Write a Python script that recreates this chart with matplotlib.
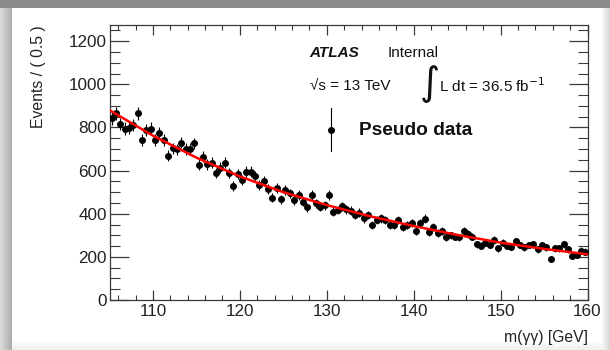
"""
ATLAS pseudo-data m(yy) spectrum with background fit, ROOT-like style.
Saves out.png (610x350).
"""
import numpy as np
import matplotlib
matplotlib.use("Agg")
import matplotlib.pyplot as plt

plt.rcParams["font.family"] = ["Liberation Sans", "DejaVu Sans"]

# ── data ────────────────────────────────────────────────────────────────
BIN_LO = 105.0
BIN_WIDTH = 0.5
EVENTS = [
    842, 865, 815, 795, 798, 810, 865, 742, 788, 795,
    742, 775, 742, 668, 703, 698, 730, 700, 700, 726,
    627, 664, 630, 636, 590, 613, 636, 590, 528, 584,
    556, 595, 595, 576, 533, 553, 516, 474, 520, 466,
    510, 494, 463, 486, 456, 429, 486, 448, 432, 440,
    486, 409, 417, 435, 420, 414, 394, 405, 378, 394,
    348, 371, 378, 371, 346, 346, 371, 340, 346, 358,
    320, 355, 377, 314, 337, 312, 321, 290, 300, 293,
    290, 320, 306, 293, 259, 252, 266, 255, 278, 239,
    266, 250, 247, 273, 255, 244, 255, 259, 235, 255,
    244, 188, 239, 239, 259, 235, 204, 208, 229, 224,
]
FIT_X = [105, 110, 115, 120, 125, 130, 135, 140, 145, 150, 155, 160]
FIT_Y = [880, 762, 660, 573, 500, 440, 388, 343, 302, 266, 237, 212]

X_TICKS = [110, 120, 130, 140, 150, 160]
Y_TICKS = [0, 200, 400, 600, 800, 1000, 1200]

FRAME = "#3a3a3a"
W, H = 610, 350

fig = plt.figure(figsize=(W / 100, H / 100), dpi=100)
fig.patch.set_facecolor("white")

# moldura cinza (sombra) em volta do painel branco
bg = np.ones((H, W, 3))
bg[:8, :, :] = 0.55
for c in range(12):
    bg[8:, c, :] = 0.86 - 0.18 * c / 11
for c in range(W - 8, W):
    bg[8:, c, :] = 0.97 - 0.12 * (c - (W - 8)) / 7
for r in range(H - 10, H):
    bg[r, 12:W - 8, :] = 1.0 - 0.06 * (r - (H - 10)) / 9
fig.figimage(bg, xo=0, yo=0, origin="upper", zorder=-10)

ax = fig.add_axes([109.5 / W, 50 / H, 478 / W, 275 / H])
ax.set_facecolor("white")

x = BIN_LO + BIN_WIDTH * (np.arange(len(EVENTS)) + 0.5)
y = np.array(EVENTS, dtype=float)
ax.errorbar(x, y, yerr=np.sqrt(y), xerr=BIN_WIDTH / 2, fmt="o", ms=4.0,
            color="black", ecolor="black", elinewidth=0.8, capsize=0, zorder=3)
ax.plot(FIT_X, FIT_Y, color="#ff0000", lw=1.8, zorder=4)

ax.set_xlim(105, 160)
ax.set_ylim(0, 1275)
ax.set_xticks(X_TICKS)
ax.set_yticks(Y_TICKS)
ax.set_xticks(np.arange(106, 160, 2), minor=True)
ax.set_yticks(np.arange(0, 1275, 50), minor=True)

for s in ax.spines.values():
    s.set_color(FRAME)
    s.set_linewidth(0.9)
ax.tick_params(axis="both", which="both", direction="in", top=True, right=True,
               colors=FRAME, labelcolor="#222222", labelsize=12.3)
ax.tick_params(axis="x", which="major", length=7, width=0.9, pad=3)
ax.tick_params(axis="x", which="minor", length=3.5, width=0.8)
ax.tick_params(axis="y", which="major", length=14, width=0.9, pad=2)
ax.tick_params(axis="y", which="minor", length=7, width=0.8)

ax.set_xlabel("m(γγ) [GeV]", fontsize=11.3, color="#222222", ha="right")
ax.xaxis.set_label_coords(1.0, -0.11)
ax.set_ylabel("Events / ( 0.5 )", fontsize=11.3, color="#222222", ha="right")
ax.yaxis.set_label_coords(-0.133, 1.0)

# ── textos ATLAS ─────────────────────────────────────────────────────
T = ax.transAxes
ax.text(0.417, 0.898, "ATLAS", transform=T, fontsize=11, fontweight="bold",
        style="italic", va="center", ha="left", color="#111111")
ax.text(0.581, 0.898, "Internal", transform=T, fontsize=11, va="center",
        ha="left", color="#111111")
ax.text(0.42, 0.778, "√s = 13 TeV", transform=T, fontsize=11, va="center",
        ha="left", color="#111111")
ax.text(0.650, 0.785, "∫", transform=T, fontsize=28, va="center", ha="left",
        family="DejaVu Sans", color="#111111")
ax.text(0.689, 0.778, "L dt = 36.5 fb$^{-1}$", transform=T, fontsize=11,
        va="center", ha="left", color="#111111")

# legenda "Pseudo data"
ax.plot([0.463, 0.463], [0.542, 0.698], transform=T, color="black", lw=0.8)
ax.plot([0.463], [0.618], "o", ms=4.0, color="black", transform=T)
ax.text(0.522, 0.618, "Pseudo data", transform=T, fontsize=13.8,
        fontweight="bold", va="center", ha="left", color="#111111")

fig.savefig("out.png", dpi=100, facecolor="white")
plt.close(fig)
